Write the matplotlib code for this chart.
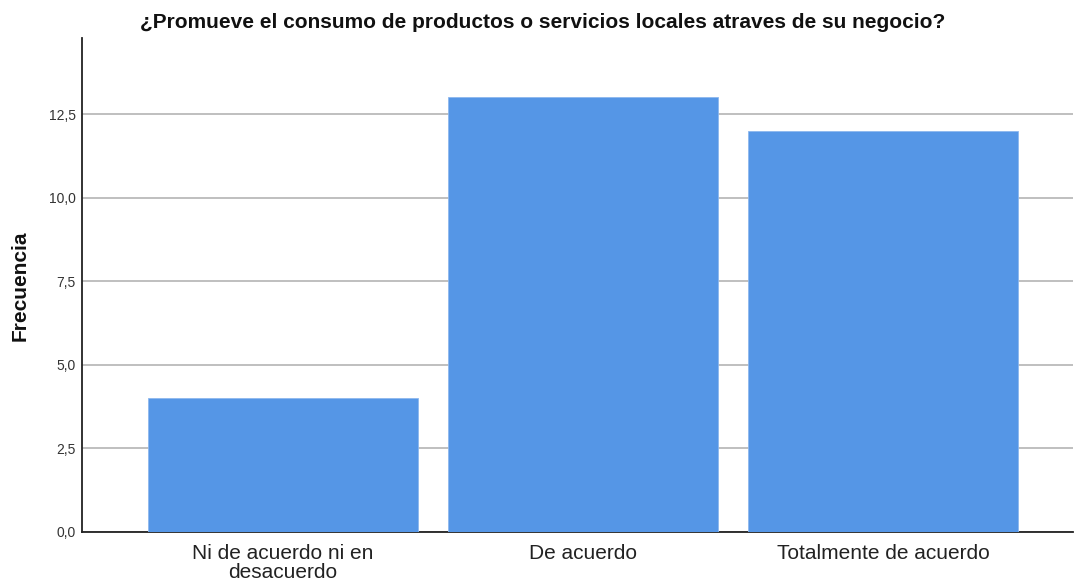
import matplotlib
matplotlib.use("Agg")
import matplotlib.pyplot as plt
from matplotlib.ticker import FuncFormatter

categories = ["Ni de acuerdo ni en\ndesacuerdo", "De acuerdo", "Totalmente de acuerdo"]
values = [4, 13, 12]
yticks = [0, 2.5, 5, 7.5, 10, 12.5]

plt.rcParams['font.family'] = ['Liberation Sans', 'DejaVu Sans']

fig = plt.figure(figsize=(10.75, 5.85), dpi=100)
ax = fig.add_axes([0.0763, 0.0906, 0.922, 0.844])

x = list(range(len(categories)))
ax.bar(x, values, width=0.9, color='#5596E6', edgecolor='#8DB8EE', linewidth=0.6, zorder=3)
ax.set_xlim(-0.67, 2.633)
ax.set_ylim(0, 14.77)
ax.set_yticks(yticks)
ax.yaxis.set_major_formatter(FuncFormatter(lambda v, p: f"{v:.1f}".replace('.', ',')))
ax.set_xticks(x)
ax.set_xticklabels(categories, fontsize=15, color='#222222', linespacing=0.95)
ax.tick_params(axis='y', labelsize=10, length=0, pad=4.5, labelcolor='#333333')
ax.tick_params(axis='x', length=0, pad=9)
ax.grid(axis='y', color='#B4B4B4', linewidth=1.2, zorder=0)
for s in ['top', 'right']:
    ax.spines[s].set_visible(False)
ax.spines['left'].set_color('#222222')
ax.spines['bottom'].set_color('#222222')
ax.spines['left'].set_linewidth(1.3)
ax.spines['bottom'].set_linewidth(1.3)
fig.text(20 / 1075, 1 - 286 / 585, "Frecuencia", rotation=90, ha='center', va='center',
         fontsize=15, fontweight='bold', color='#111111')
fig.text(0.505, 1 - 22 / 585, "¿Promueve el consumo de productos o servicios locales atraves de su negocio?",
         ha='center', va='center', fontsize=15, fontweight='bold', color='#111111')

fig.savefig("out.png", dpi=100)
